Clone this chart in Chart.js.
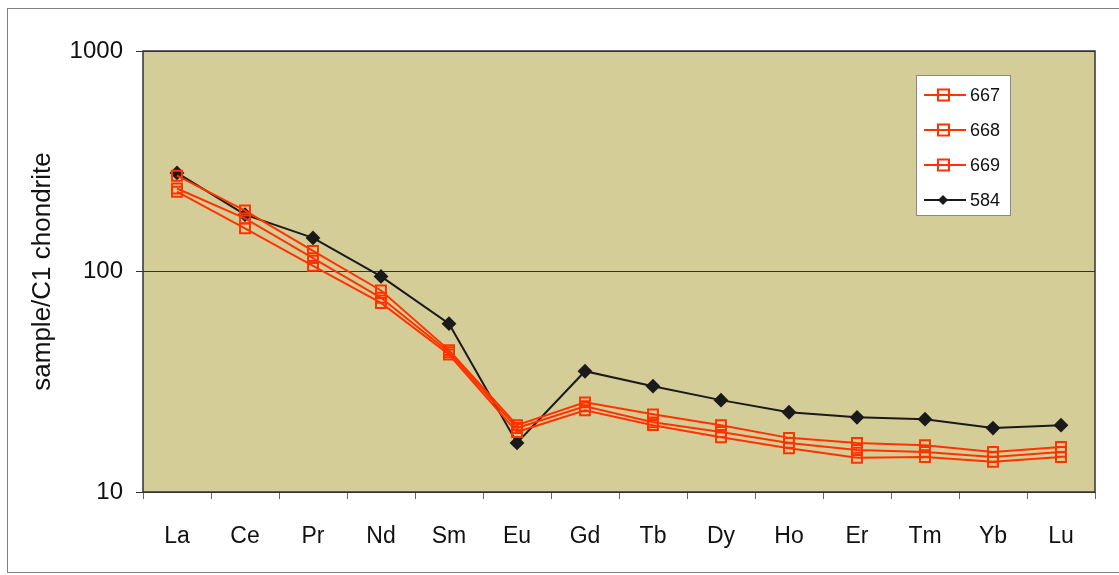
<!DOCTYPE html>
<html>
<head>
<meta charset="utf-8">
<script src="https://cdn.jsdelivr.net/npm/chart.js@4.4.1/dist/chart.umd.min.js"></script>
<style>
  html, body { margin: 0; padding: 0; background: #fff; }
  #wrap { width: 1119px; height: 575px; }
</style>
</head>
<body>
<div id="wrap"><canvas id="ree-chart" width="1119" height="575"></canvas></div>
<script>
// REE chondrite-normalised pattern
const elements = ["La", "Ce", "Pr", "Nd", "Sm", "Eu", "Gd", "Tb", "Dy", "Ho", "Er", "Tm", "Yb", "Lu"];
const yTicks = [10, 100, 1000];

const s667 = [272, 189, 124, 82, 44, 20.1, 25.5, 22.5, 20.1, 17.6, 16.7, 16.3, 15.2, 16.0];
const s668 = [238, 174, 115, 76, 43, 19.5, 24.5, 20.7, 18.7, 16.7, 15.5, 15.2, 14.4, 15.2];
const s669 = [230, 157, 106, 72, 42, 18.7, 23.5, 20.1, 17.7, 15.8, 14.3, 14.4, 13.7, 14.4];
const s584 = [280, 181, 142, 95, 58, 16.7, 35.3, 30.2, 26.1, 23.0, 21.8, 21.4, 19.5, 20.1];

const RED = "#ff3300";
const FONT = "'Liberation Sans', Arial, sans-serif";

const redSet = (label, data) => ({
  label, data,
  borderColor: RED, borderWidth: 2,
  pointStyle: "rect", pointRadius: 7, pointBorderWidth: 2,
  pointBorderColor: RED, pointBackgroundColor: "transparent",
  tension: 0
});

// plot background, frame and legend box
const decor = {
  id: "decor",
  beforeDraw(chart) {
    const { ctx, chartArea: a } = chart;
    ctx.save();
    ctx.strokeStyle = "#808080";
    ctx.lineWidth = 1;
    ctx.strokeRect(7.5, 8.5, 1130, 564);
    ctx.fillStyle = "#d5cd98";
    ctx.fillRect(a.left, a.top, a.right - a.left, a.bottom - a.top);
    ctx.restore();
  },
  afterDatasetsDraw(chart) {
    const { ctx, chartArea: a } = chart;
    ctx.save();
    ctx.strokeStyle = "#333";
    ctx.lineWidth = 1.5;
    ctx.strokeRect(a.left, a.top, a.right - a.left, a.bottom - a.top);

    // legend
    const bx = 916, by = 75, bw = 94, bh = 140;
    ctx.fillStyle = "#fff";
    ctx.fillRect(bx, by, bw, bh);
    ctx.strokeStyle = "#888";
    ctx.lineWidth = 1;
    ctx.strokeRect(bx + 0.5, by + 0.5, bw, bh);
    ctx.font = "18px " + FONT;
    ctx.textBaseline = "middle";
    chart.data.datasets.forEach((ds, i) => {
      const y = 95 + i * 35;
      ctx.strokeStyle = ds.borderColor;
      ctx.lineWidth = 2;
      ctx.beginPath();
      ctx.moveTo(924, y);
      ctx.lineTo(966, y);
      ctx.stroke();
      if (ds.pointStyle === "rect") {
        ctx.strokeRect(938, y - 5.5, 11, 11);
      } else {
        ctx.fillStyle = ds.borderColor;
        ctx.beginPath();
        ctx.moveTo(943, y - 5); ctx.lineTo(948, y); ctx.lineTo(943, y + 5); ctx.lineTo(938, y);
        ctx.closePath();
        ctx.fill();
      }
      ctx.fillStyle = "#111";
      ctx.fillText(ds.label, 970, y + 1);
    });
    ctx.restore();
  }
};

new Chart(document.getElementById("ree-chart"), {
  type: "line",
  data: {
    labels: elements,
    datasets: [
      redSet("667", s667),
      redSet("668", s668),
      redSet("669", s669),
      {
        label: "584", data: s584,
        borderColor: "#1a1a1a", borderWidth: 2,
        pointStyle: "rectRot", pointRadius: 6,
        pointBackgroundColor: "#1a1a1a", pointBorderColor: "#1a1a1a",
        tension: 0
      }
    ]
  },
  options: {
    responsive: false,
    animation: false,
    layout: { padding: { left: 0, top: 51, right: 24, bottom: 0 } },
    plugins: { legend: { display: false }, tooltip: { enabled: false } },
    scales: {
      x: {
        offset: true,
        grid: { offset: true, drawOnChartArea: false, drawTicks: true, tickLength: 7, color: "#666" },
        border: { display: false },
        ticks: { color: "#111", font: { family: FONT, size: 23 }, padding: 24, maxRotation: 0 },
        afterFit(s) { s.height = 83; }
      },
      y: {
        type: "logarithmic",
        min: 10, max: 1000,
        afterBuildTicks(s) { s.ticks = yTicks.map(v => ({ value: v })); },
        grid: { color: "#333", lineWidth: 1, tickLength: 7 },
        border: { display: false },
        ticks: {
          color: "#111", font: { family: FONT, size: 24 }, padding: 13,
          callback: v => String(v)
        },
        title: {
          display: true, text: "sample/C1 chondrite", color: "#111",
          font: { family: FONT, size: 26 }, padding: { top: 27, bottom: 0 }
        },
        afterFit(s) { s.width = 143; }
      }
    }
  },
  plugins: [decor]
});
</script>
</body>
</html>
